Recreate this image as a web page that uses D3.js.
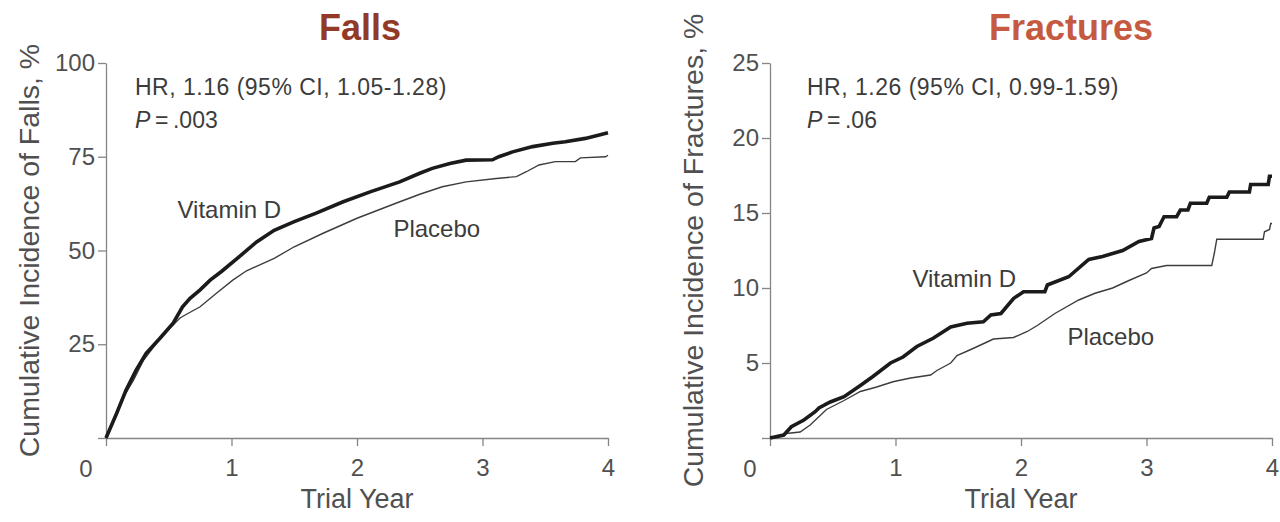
<!DOCTYPE html>
<html>
<head>
<meta charset="utf-8">
<script src="https://cdn.jsdelivr.net/npm/d3@7"></script>
<style>
  html, body { margin: 0; padding: 0; background: #fff; }
  svg { display: block; font-family: "Liberation Sans", Arial, Helvetica, sans-serif; }
</style>
</head>
<body>
<svg id="chart" width="1280" height="522"></svg>
<script>
// Trial year ticks shared by both panels
const yearTicks = [0, 1, 2, 3, 4];
const fallsTicks = [0, 25, 50, 75, 100];
const fracturesTicks = [0, 5, 10, 15, 20, 25];

// Cumulative incidence of falls, % — [trial year, percent]
const fallsVitaminD = [
  [0, 0], [0.085, 6.6], [0.16, 12.8], [0.24, 18.1], [0.32, 22.6], [0.43, 26.6],
  [0.535, 30.6], [0.61, 35.0], [0.67, 37.25], [0.75, 39.5], [0.83, 42.1], [0.92, 44.4],
  [1.06, 48.3], [1.2, 52.3], [1.34, 55.4], [1.5, 57.7], [1.67, 59.9], [1.89, 63.0],
  [2.11, 65.7], [2.34, 68.3], [2.5, 70.6], [2.6, 71.9], [2.74, 73.2], [2.87, 74.1],
  [3.08, 74.2], [3.13, 75.0], [3.24, 76.3], [3.4, 77.7], [3.56, 78.6], [3.66, 79.0],
  [3.82, 79.9], [3.93, 80.8], [4.0, 81.4]
];
const fallsPlacebo = [
  [0, 0], [0.08, 6.2], [0.15, 11.5], [0.22, 15.5], [0.3, 20.8], [0.4, 25.2],
  [0.5, 29.0], [0.59, 32.0], [0.62, 32.6], [0.75, 35.0], [0.88, 38.6], [1.01, 42.1],
  [1.12, 44.6], [1.34, 47.9], [1.5, 51.0], [1.73, 54.6], [2.0, 58.6], [2.31, 62.6],
  [2.5, 65.0], [2.68, 67.0], [2.87, 68.3], [3.11, 69.2], [3.27, 69.7], [3.35, 71.0],
  [3.45, 72.8], [3.58, 73.7], [3.74, 73.7], [3.78, 74.7], [3.98, 75.0], [4.0, 75.4]
];

// Cumulative incidence of fractures, % — [trial year, percent]
const fracturesVitaminD = [
  [0, 0], [0.11, 0.2], [0.17, 0.75], [0.27, 1.2], [0.36, 1.75], [0.39, 2.0],
  [0.48, 2.4], [0.59, 2.75], [0.72, 3.5], [0.82, 4.1], [0.96, 5.0], [1.06, 5.4],
  [1.17, 6.1], [1.3, 6.65], [1.44, 7.4], [1.57, 7.65], [1.7, 7.75], [1.76, 8.2],
  [1.84, 8.3], [1.94, 9.3], [2.02, 9.75], [2.19, 9.75], [2.21, 10.2], [2.38, 10.75],
  [2.54, 11.9], [2.65, 12.1], [2.81, 12.5], [2.94, 13.1], [3.04, 13.3], [3.06, 14.0],
  [3.1, 14.1], [3.14, 14.75], [3.24, 14.75], [3.27, 15.2], [3.33, 15.2], [3.35, 15.65],
  [3.48, 15.65], [3.5, 16.05], [3.64, 16.05], [3.66, 16.4], [3.82, 16.4], [3.83, 16.9],
  [3.97, 16.9], [3.98, 17.45], [4.0, 17.45]
];
const fracturesPlacebo = [
  [0, 0], [0.13, 0.3], [0.24, 0.4], [0.32, 0.87], [0.45, 1.9], [0.59, 2.5],
  [0.72, 3.1], [0.85, 3.4], [0.98, 3.75], [1.12, 4.0], [1.28, 4.2], [1.33, 4.5],
  [1.44, 5.0], [1.49, 5.5], [1.6, 5.9], [1.73, 6.4], [1.78, 6.6], [1.94, 6.7],
  [2.05, 7.1], [2.13, 7.5], [2.27, 8.3], [2.46, 9.2], [2.59, 9.65], [2.73, 10.0],
  [2.86, 10.5], [3.0, 11.0], [3.04, 11.3], [3.16, 11.5], [3.52, 11.5], [3.54, 12.3],
  [3.56, 13.25], [3.93, 13.25], [3.94, 13.75], [3.98, 13.9], [3.99, 14.3], [4.0, 14.3]
];

const panels = [
  {
    title: "Falls", titleColor: "#923a27", titleX: 360,
    yLabel: "Cumulative Incidence of Falls, %", yMax: 100, yTicks: fallsTicks,
    vitaminD: fallsVitaminD, placebo: fallsPlacebo,
    hr: "HR, 1.16 (95% CI, 1.05-1.28)", p: ".003",
    left: 106, hrDx: 29,
    vitLabelAt: [0.57, 58.7], plaLabelAt: [2.29, 53.7]
  },
  {
    title: "Fractures", titleColor: "#c55a41", titleX: 1071,
    yLabel: "Cumulative Incidence of Fractures, %", yMax: 25, yTicks: fracturesTicks,
    vitaminD: fracturesVitaminD, placebo: fracturesPlacebo,
    hr: "HR, 1.26 (95% CI, 0.99-1.59)", p: ".06",
    left: 770, hrDx: 37,
    vitLabelAt: [1.135, 10.05], plaLabelAt: [2.37, 6.2]
  }
];

const plotTop = 63, plotBottom = 438, plotW = 502;
const axisColor = "#858585", textColor = "#505050";
const svg = d3.select("#chart");

panels.forEach(pn => {
  const x = d3.scaleLinear().domain([0, 4]).range([pn.left, pn.left + plotW]);
  const y = d3.scaleLinear().domain([0, pn.yMax]).range([plotBottom, plotTop]);
  const g = svg.append("g");

  // title
  g.append("text")
    .attr("x", pn.titleX).attr("y", 40)
    .attr("text-anchor", "middle")
    .attr("font-size", 36).attr("font-weight", "bold")
    .attr("fill", pn.titleColor)
    .text(pn.title);

  // axes
  const yAxis = d3.axisLeft(y).tickValues(pn.yTicks).tickSize(8).tickSizeOuter(0)
    .tickPadding(3).tickFormat(d => d === 0 ? "" : d);
  const xAxis = d3.axisBottom(x).tickValues(yearTicks).tickSize(8).tickSizeOuter(0)
    .tickPadding(13).tickFormat(d => d === 0 ? "" : d);

  const ya = g.append("g").attr("transform", `translate(${pn.left},0)`).call(yAxis);
  const xa = g.append("g").attr("transform", `translate(0,${plotBottom})`).call(xAxis);
  [ya, xa].forEach(a => {
    a.selectAll("path, line").attr("stroke", axisColor).attr("stroke-width", 1.3);
    a.selectAll("text").attr("fill", textColor).attr("font-size", 24)
      .attr("font-family", "'Liberation Sans', Arial, sans-serif");
  });

  // shared origin label
  g.append("text")
    .attr("x", pn.left - 20).attr("y", plotBottom + 39)
    .attr("text-anchor", "middle").attr("font-size", 24).attr("fill", textColor)
    .text("0");

  // axis titles
  g.append("text")
    .attr("x", x(2)).attr("y", 508)
    .attr("text-anchor", "middle").attr("font-size", 27).attr("fill", textColor)
    .text("Trial Year");
  g.append("text")
    .attr("transform", `translate(${pn.left - 67},${(plotTop + plotBottom) / 2}) rotate(-90)`)
    .attr("text-anchor", "middle").attr("font-size", 28.5).attr("fill", textColor)
    .text(pn.yLabel);

  // hazard ratio annotation
  g.append("text")
    .attr("x", pn.left + pn.hrDx).attr("y", 95)
    .attr("font-size", 23).attr("letter-spacing", 0.5).attr("fill", "#3c3c3c")
    .text(pn.hr);
  const pt = g.append("text")
    .attr("x", pn.left + pn.hrDx).attr("y", 128)
    .attr("font-size", 23).attr("fill", "#3c3c3c");
  pt.append("tspan").attr("font-style", "italic").text("P");
  pt.append("tspan").text("\u2009=\u2009" + pn.p);

  // curves
  const line = d3.line().x(d => x(d[0])).y(d => y(d[1])).curve(d3.curveLinear);
  g.append("path").datum(pn.placebo)
    .attr("d", line).attr("fill", "none")
    .attr("stroke", "#3d3d3d").attr("stroke-width", 1.4).attr("stroke-linejoin", "miter");
  g.append("path").datum(pn.vitaminD)
    .attr("d", line).attr("fill", "none")
    .attr("stroke", "#1b1b1b").attr("stroke-width", 3.6).attr("stroke-linejoin", "miter");

  // series labels
  g.append("text")
    .attr("x", x(pn.vitLabelAt[0])).attr("y", y(pn.vitLabelAt[1]))
    .attr("font-size", 24).attr("fill", "#3c3c3c").text("Vitamin D");
  g.append("text")
    .attr("x", x(pn.plaLabelAt[0])).attr("y", y(pn.plaLabelAt[1]))
    .attr("font-size", 24).attr("fill", "#3c3c3c").text("Placebo");
});
</script>
</body>
</html>
